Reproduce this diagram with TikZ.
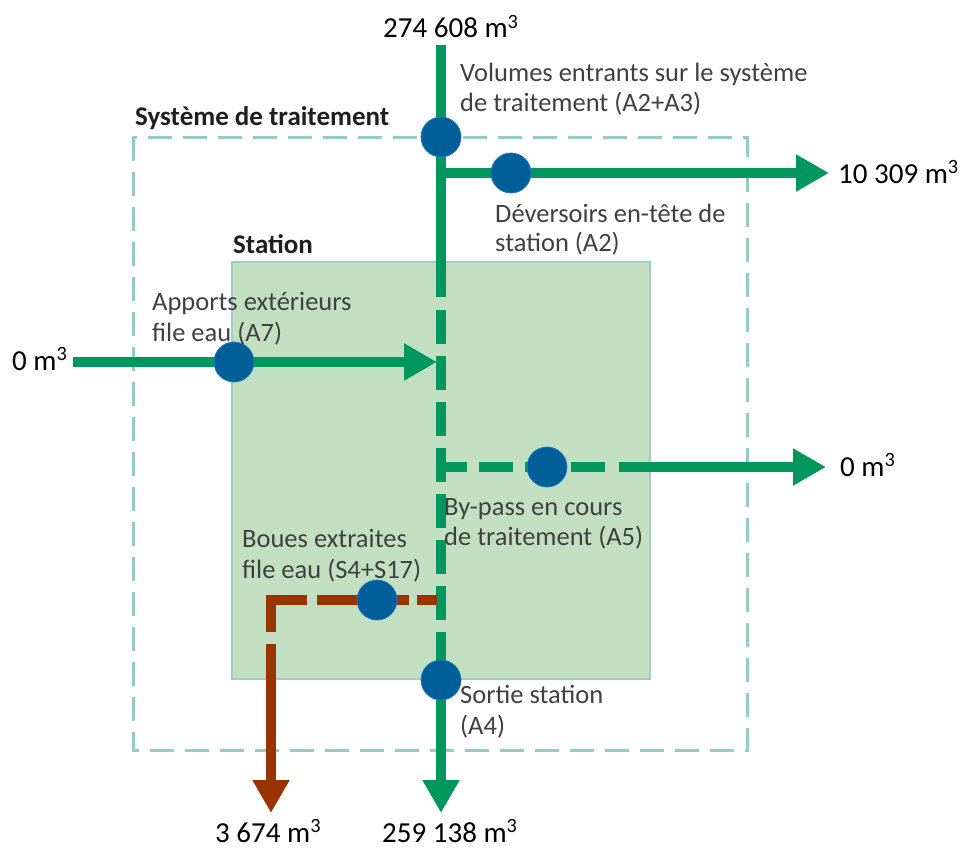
\documentclass[tikz,border=0pt]{standalone}
\usepackage{fontspec}
\setmainfont{Carlito}
\usetikzlibrary{arrows.meta}
\definecolor{flowgreen}{RGB}{0,151,95}
\definecolor{sludge}{RGB}{153,51,0}
\definecolor{dotblue}{RGB}{0,95,152}
\definecolor{dotrim}{RGB}{40,120,190}
\definecolor{stfill}{RGB}{194,223,194}
\definecolor{stedge}{RGB}{155,207,200}
\definecolor{sysedge}{RGB}{148,204,196}
\definecolor{labgray}{RGB}{64,64,64}
\definecolor{ttlgray}{RGB}{30,30,30}
\begin{document}
\begin{tikzpicture}[x=1pt,y=-1pt,
  flow/.style={line width=9.5pt,draw=flowgreen},
  mud/.style={line width=9.5pt,draw=sludge},
  tipg/.style={-{Triangle[length=33pt,width=35pt]}},
  vdash/.style={dash pattern=on 34pt off 12pt},
  pt/.style={circle,fill=dotblue,draw=dotrim,line width=0.8pt,minimum size=40pt,inner sep=0pt},
  lab/.style={anchor=base west,inner sep=0pt,text=labgray,font=\fontsize{26.5}{30}\selectfont},
  ttl/.style={anchor=base west,inner sep=0pt,text=ttlgray,font=\fontsize{27}{30}\selectfont\bfseries},
  val/.style={anchor=base west,inner sep=0pt,text=black,font=\fontsize{29}{34}\selectfont},
  sysbox/.style={draw=sysedge,line width=3pt,dash pattern=on 24pt off 11pt},
  stbox/.style={draw=stedge,fill=stfill,line width=2.5pt}
]
\useasboundingbox (0,0) rectangle (965,848);

% boxes
\draw[sysbox] (133,137) rectangle (747,750);
\draw[stbox] (232,262) rectangle (650,679);

% coordinates
\coordinate (vtop) at (441,45);
\coordinate (vs1) at (441,297);
\coordinate (vd1) at (441,310);
\coordinate (vd2) at (441,620);
\coordinate (vs2) at (441,632);
\coordinate (vbot) at (441,813);
\coordinate (hA2s) at (441,173);
\coordinate (hA2e) at (829,173);
\coordinate (hA7s) at (73,362);
\coordinate (hA7e) at (437,362);
\coordinate (hA5s) at (441,467);
\coordinate (hA5d) at (605,467);
\coordinate (hA5t) at (619,467);
\coordinate (hA5e) at (826,467);
\coordinate (bS4s) at (437,600);
\coordinate (bcorner) at (271,600);
\coordinate (bS4d) at (271,632);
\coordinate (bS4t) at (271,644);
\coordinate (bS4e) at (271,813);

% green flows
\draw[flow] (vtop) -- (vs1);
\draw[flow,vdash] (vd1) -- (vd2);
\draw[flow,tipg] (vs2) -- (vbot);
\draw[flow,tipg] (hA2s) -- (hA2e);
\draw[flow,tipg] (hA7s) -- (hA7e);
\draw[flow,vdash,dash phase=8pt] (hA5s) -- (hA5d);
\draw[flow,tipg] (hA5t) -- (hA5e);

% sludge flow
\draw[mud,dash pattern=on 20pt off 8pt on 30pt off 10pt on 52pt off 10pt on 68pt off 20pt] (bS4s) -- (bcorner) -- (bS4d);
\draw[mud,tipg,fill=sludge] (bS4t) -- (bS4e);

% measuring points
\node[pt] (pA23) at (441,137) {};
\node[pt] (pA2) at (511,173) {};
\node[pt] (pA7) at (234,362) {};
\node[pt] (pA5) at (547,467) {};
\node[pt] (pS4) at (377,600) {};
\node[pt] (pA4) at (441,680) {};

% titles
\node[ttl] (tsys) at (135,125) {Système de traitement};
\node[ttl] (tst) at (233,253) {Station};

% labels
\node[lab] (lA23a) at (460,82) {Volumes entrants sur le système};
\node[lab] (lA23b) at (460,112) {de traitement (A2+A3)};
\node[lab] (lA2a) at (495,222) {Déversoirs en-tête de};
\node[lab] (lA2b) at (495,251) {station (A2)};
\node[lab] (lA7a) at (152,310) {Apports extérieurs};
\node[lab] (lA7b) at (152,341) {file eau (A7)};
\node[lab] (lA5a) at (444,515) {By-pass en cours};
\node[lab] (lA5b) at (444,545) {de traitement (A5)};
\node[lab] (lS4a) at (242,547) {Boues extraites};
\node[lab] (lS4b) at (242,578) {file eau (S4+S17)};
\node[lab] (lA4a) at (460,703) {Sortie station};
\node[lab] (lA4b) at (460,734) {(A4)};

% values
\node[val] (v1) at (383,38) {274 608 m\textsuperscript{3}};
\node[val] (v2) at (838,183) {10 309 m\textsuperscript{3}};
\node[val] (v3) at (12,370) {0 m\textsuperscript{3}};
\node[val] (v4) at (840,476) {0 m\textsuperscript{3}};
\node[val] (v5) at (215,842) {3 674 m\textsuperscript{3}};
\node[val] (v6) at (382,842) {259 138 m\textsuperscript{3}};
\end{tikzpicture}
\end{document}
